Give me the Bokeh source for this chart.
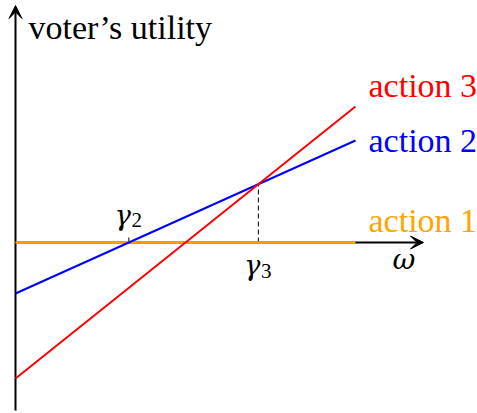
from bokeh.plotting import figure
from bokeh.models import Range1d, Arrow, VeeHead
from bokeh.core.properties import value
from bokeh.embed import file_html
from bokeh.resources import INLINE

# ---- data ----
omega = [0.0, 10.0]
action1 = [0.0, 0.0]
action2 = [-1.5, 3.0]
action3 = [-4.0, 4.0]
labels = ["action 1", "action 2", "action 3"]
colors = ["#ffa500", "#0000ff", "#ff0000"]
y_label = "voter\u2019s utility"
x_label = "\u03c9"
x_axis_end = 12.0
y_axis_top = 6.97
y_axis_bottom = -4.94

# derived intersections
def slope(a):
    return (a[1] - a[0]) / (omega[1] - omega[0])

g2 = omega[0] - action2[0] / slope(action2)
g3 = (action3[0] - action2[0]) / (slope(action2) - slope(action3))
u3 = action2[0] + slope(action2) * g3

SC = 34.0
W, H = 477, 413
x0 = -15 / SC
y1 = 242 / SC
p = figure(width=W, height=H, output_backend="svg", toolbar_location=None,
           x_range=Range1d(x0, x0 + W / SC), y_range=Range1d(y1 - H / SC, y1),
           min_border=0, min_border_left=0, min_border_right=0,
           min_border_top=0, min_border_bottom=0)
p.xaxis.visible = False
p.yaxis.visible = False
p.grid.visible = False
p.outline_line_color = None
p.background_fill_color = "white"
p.border_fill_color = "white"

FONT = value("Liberation Serif")
GFONT = value("DejaVu Serif")

# axes with arrows
p.add_layout(Arrow(x_start=0, y_start=y_axis_bottom, x_end=0, y_end=y_axis_top,
                   line_width=2, line_color="black", level="underlay",
                   end=VeeHead(size=13, fill_color="black", line_color="black", line_width=1)))
p.add_layout(Arrow(x_start=0, y_start=0, x_end=x_axis_end, y_end=0,
                   line_width=2, line_color="black", level="underlay",
                   end=VeeHead(size=13, fill_color="black", line_color="black", line_width=1)))

# dashed line and tick
p.line([g3, g3], [0, u3], line_color="black", line_width=1, line_dash="5 3")
p.line([g2, g2], [0, 5 / SC], line_color="black", line_width=1)

# action lines
p.line(omega, action1, line_color=colors[0], line_width=2.5)
p.line(omega, action2, line_color=colors[1], line_width=2)
p.line(omega, action3, line_color=colors[2], line_width=2)

# labels
lx = omega[1] + 13 / SC
p.text([lx], [action3[1] + 21 / SC], text=[labels[2]], text_color=colors[2],
       text_font=FONT, text_font_size="34px", text_baseline="alphabetic")
p.text([lx], [action2[1] + 0 / SC], text=[labels[1]], text_color=colors[1],
       text_font=FONT, text_font_size="34px", text_baseline="alphabetic")
p.text([lx], [action1[1] + 22 / SC], text=[labels[0]], text_color=colors[0],
       text_font=FONT, text_font_size="34px", text_baseline="alphabetic")

p.text([13 / SC], [215 / SC], text=[y_label], text_color="black",
       text_font=FONT, text_font_size="34px", text_baseline="alphabetic")
p.text([377 / SC], [-17 / SC], text=[x_label], text_color="black",
       text_font=GFONT, text_font_style="italic", text_font_size="28px",
       text_baseline="alphabetic")

# gamma labels
p.text([g2], [27 / SC], text=["\u03b3"], x_offset=-6, text_align="center",
       text_font=GFONT, text_font_style="italic", text_font_size="27px",
       text_baseline="alphabetic", text_color="black")
p.text([g2], [23 / SC], text=["2"], x_offset=8, text_align="center",
       text_font=FONT, text_font_size="21px", text_baseline="alphabetic",
       text_color="black")
p.text([g3], [-23 / SC], text=["\u03b3"], x_offset=-6, text_align="center",
       text_font=GFONT, text_font_style="italic", text_font_size="27px",
       text_baseline="alphabetic", text_color="black")
p.text([g3], [-28 / SC], text=["3"], x_offset=8, text_align="center",
       text_font=FONT, text_font_size="21px", text_baseline="alphabetic",
       text_color="black")

open("out.html", "w").write(file_html(p, INLINE))
